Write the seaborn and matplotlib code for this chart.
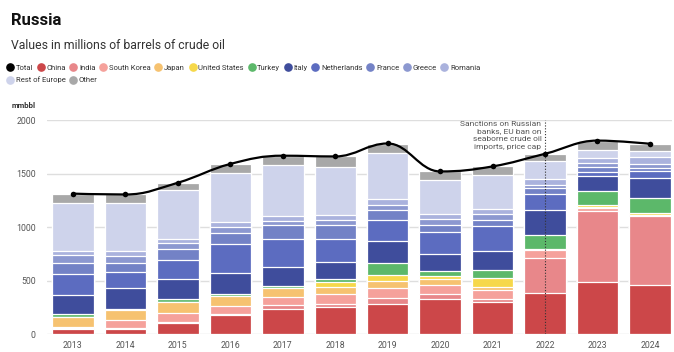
import numpy as np
import pandas as pd
import matplotlib
matplotlib.use("Agg")
import matplotlib.pyplot as plt
from matplotlib.path import Path
from matplotlib.patches import PathPatch
from matplotlib.lines import Line2D
import seaborn as sns

# years on the x axis
years = ['2013', '2014', '2015', '2016', '2017', '2018',
         '2019', '2020', '2021', '2022', '2023', '2024']

# destinations, bottom of the stack first (mmbbl)
china = [50, 50, 105, 184, 236, 252, 283, 330, 299, 389, 492, 458]
india = [12, 12, 9, 10, 35, 31, 53, 47, 34, 321, 661, 648]
south_korea = [10, 72, 84, 71, 81, 97, 94, 87, 81, 75, 28, 6]
japan = [93, 90, 107, 88, 78, 62, 65, 50, 31, 4, 6, 0]
united_states = [0, 0, 0, 0, 0, 47, 59, 28, 78, 8, 22, 19]
turkey = [25, 13, 28, 25, 25, 25, 113, 53, 81, 134, 124, 137]
italy = [175, 196, 187, 195, 177, 162, 205, 159, 175, 228, 140, 187]
netherlands = [200, 149, 172, 268, 259, 215, 196, 199, 236, 146, 44, 65]
france = [100, 88, 100, 106, 128, 131, 94, 63, 53, 56, 41, 34]
greece = [71, 62, 56, 50, 40, 46, 47, 62, 53, 31, 40, 32]
romania = [38, 50, 40, 50, 41, 44, 56, 47, 47, 57, 44, 65]
rest_of_europe = [448, 442, 458, 461, 479, 446, 426, 311, 318, 171, 81, 56]
other = [90, 81, 67, 80, 86, 102, 89, 84, 81, 65, 77, 71]

# total line
total = [1313, 1305, 1415, 1590, 1667, 1660, 1781, 1520, 1567, 1685, 1808, 1778]

series = {
    'China': china, 'India': india, 'South Korea': south_korea, 'Japan': japan,
    'United States': united_states, 'Turkey': turkey, 'Italy': italy,
    'Netherlands': netherlands, 'France': france, 'Greece': greece,
    'Romania': romania, 'Rest of Europe': rest_of_europe, 'Other': other,
}
colors = {
    'China': '#cc4749', 'India': '#e8878a', 'South Korea': '#f5a19b',
    'Japan': '#f6c270', 'United States': '#f6d84a', 'Turkey': '#5cb86a',
    'Italy': '#3f4d9c', 'Netherlands': '#5c6cc0', 'France': '#7382c6',
    'Greece': '#8c98d0', 'Romania': '#aab2dd', 'Rest of Europe': '#ced3eb',
    'Other': '#a8a8a8',
}

df = pd.DataFrame(series, index=years)
cum = df.cumsum(axis=1)

sns.set_style('white')
plt.rcParams['font.family'] = ['Roboto', 'DejaVu Sans']

fig = plt.figure(figsize=(6.74, 3.52), dpi=100)
ax = fig.add_axes([0.0697, 0.0503, 0.9273, 0.6087])

# stacked bars: draw cumulative heights from the top layer down
for name in reversed(list(series.keys())):
    sns.barplot(x=years, y=cum[name].values, color=colors[name], saturation=1,
                width=0.79, edgecolor='white', linewidth=0.9, ax=ax, zorder=2)


# smooth total line, highcharts style spline
def spline_path(xs, ys, smoothing=1.5):
    n = len(xs)
    lc = [None] * n
    rc = [None] * n
    for i in range(1, n - 1):
        px, py = xs[i], ys[i]
        lx, ly = xs[i - 1], ys[i - 1]
        nx, ny = xs[i + 1], ys[i + 1]
        d = smoothing + 1
        lcx = (smoothing * px + lx) / d
        lcy = (smoothing * py + ly) / d
        rcx = (smoothing * px + nx) / d
        rcy = (smoothing * py + ny) / d
        corr = ((rcy - lcy) * (rcx - px)) / (rcx - lcx) + py - rcy
        lcy += corr
        rcy += corr
        if lcy > ly and lcy > py:
            lcy = max(ly, py)
            rcy = 2 * py - lcy
        elif lcy < ly and lcy < py:
            lcy = min(ly, py)
            rcy = 2 * py - lcy
        if rcy > ny and rcy > py:
            rcy = max(ny, py)
            lcy = 2 * py - rcy
        elif rcy < ny and rcy < py:
            rcy = min(ny, py)
            lcy = 2 * py - rcy
        lc[i] = (lcx, lcy)
        rc[i] = (rcx, rcy)
    verts = [(xs[0], ys[0])]
    codes = [Path.MOVETO]
    for i in range(1, n):
        c1 = rc[i - 1] if rc[i - 1] else (xs[i - 1], ys[i - 1])
        c2 = lc[i] if lc[i] else (xs[i], ys[i])
        verts += [c1, c2, (xs[i], ys[i])]
        codes += [Path.CURVE4] * 3
    return Path(verts, codes)


xpos = np.arange(len(years))
ax.add_patch(PathPatch(spline_path(list(xpos), total), facecolor='none',
                       edgecolor='black', linewidth=1.6, zorder=5))
sns.scatterplot(x=xpos, y=total, color='black', s=16, linewidth=0, ax=ax, zorder=6)

# sanctions marker
ax.axvline(9, color='#333333', linestyle=(0, (1, 1.6)), linewidth=0.8, zorder=4)
ax.text(8.93, 1990, 'Sanctions on Russian\nbanks, EU ban on\nseaborne crude oil\nimports, price cap',
        ha='right', va='top', fontsize=6, color='#555555', linespacing=1.3, zorder=1)

ax.set_xlim(-0.496, 11.42)
ax.set_ylim(0, 2000)
ax.set_yticks([0, 500, 1000, 1500, 2000])
ax.yaxis.grid(True, color='#dedede', linewidth=1)
ax.set_axisbelow(True)
for s in ax.spines.values():
    s.set_visible(False)
ax.tick_params(axis='both', length=0, labelsize=6.3, labelcolor='#555555')
ax.tick_params(axis='y', pad=8)
ax.tick_params(axis='x', pad=5)
ax.set_xlabel('')
ax.set_ylabel('')

fig.text(0.017, 0.929, 'Russia', fontsize=12, fontweight='bold', color='#111111', va='baseline')
fig.text(0.017, 0.861, 'Values in millions of barrels of crude oil', fontsize=8.8,
         color='#333333', va='baseline')
fig.text(0.017, 0.692, 'mmbbl', fontsize=5.6, fontweight='bold', color='#333333', va='baseline')

# legend, two rows like the original
names = ['Total'] + list(series.keys())
cols = ['black'] + [colors[n] for n in series]
handles = [Line2D([], [], marker='o', linestyle='none', markersize=5.2,
                  markerfacecolor=c, markeredgecolor=c) for c in cols]
leg_kw = dict(frameon=False, fontsize=5.5, handlelength=0.8, handletextpad=0.35,
              columnspacing=0.6, borderpad=0, borderaxespad=0, labelcolor='#333333')
fig.legend(handles[:12], names[:12], ncol=12, loc='center left',
           bbox_to_anchor=(0.010, 0.807), **leg_kw)
fig.legend(handles[12:], names[12:], ncol=2, loc='center left',
           bbox_to_anchor=(0.010, 0.773), **leg_kw)

fig.savefig('out.png', dpi=100)
